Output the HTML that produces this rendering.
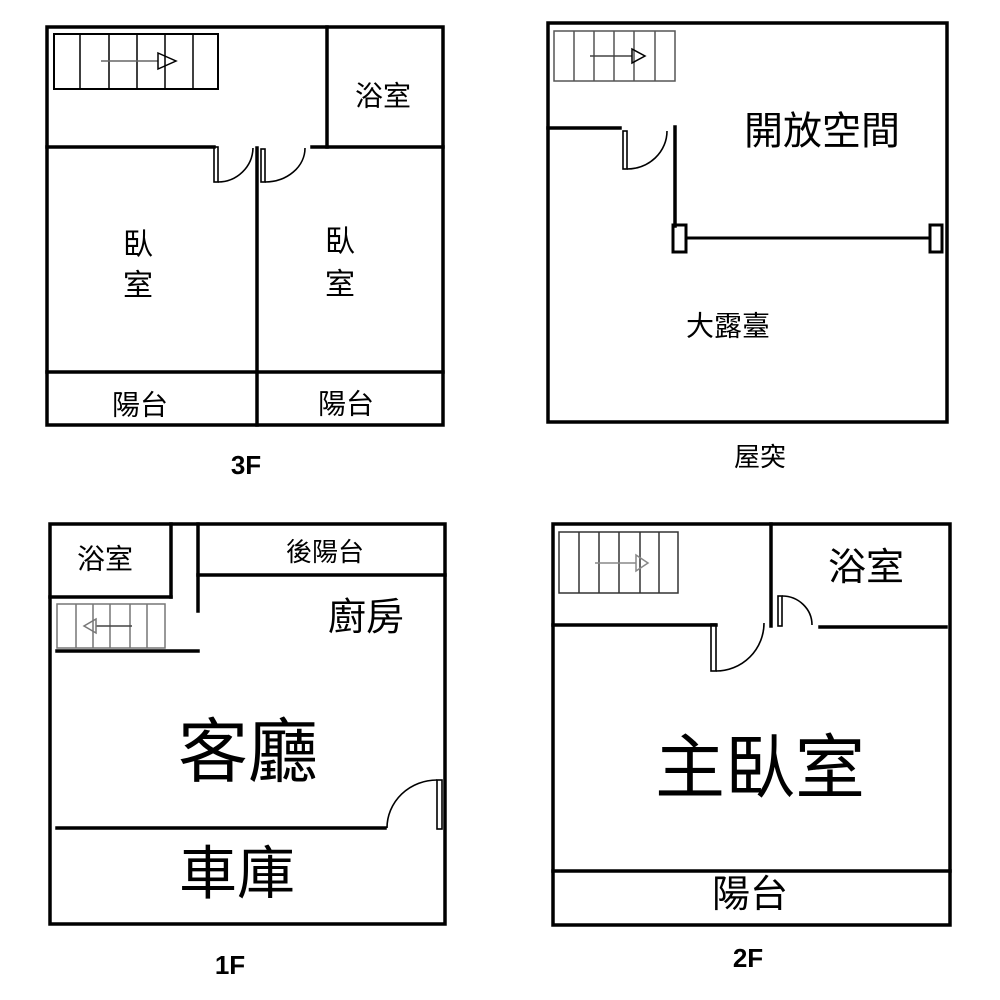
<!DOCTYPE html>
<html><head><meta charset="utf-8"><style>
html,body{margin:0;padding:0;background:#fff;}
svg{display:block}
text{font-family:"Liberation Sans","Noto Sans CJK TC",sans-serif;fill:#000;text-anchor:middle;dominant-baseline:central}
.b{font-weight:bold}
</style></head><body>
<svg width="1000" height="1000" viewBox="0 0 1000 1000" xmlns="http://www.w3.org/2000/svg">
<g fill="none" stroke="#000" stroke-width="3.5" stroke-linecap="square">
<rect x="47" y="27" width="396" height="398"/>
<line x1="327" y1="27" x2="327" y2="147"/>
<line x1="47" y1="147" x2="214" y2="147"/>
<line x1="312" y1="147" x2="443" y2="147"/>
<line x1="257" y1="148" x2="257" y2="425"/>
<line x1="47" y1="372" x2="443" y2="372"/>
<rect x="548" y="23" width="399" height="399"/>
<line x1="548" y1="128" x2="620" y2="128"/>
<line x1="675" y1="127" x2="675" y2="226"/>
<line x1="686" y1="238" x2="930" y2="238" stroke-width="3"/>
<rect x="50" y="524" width="395" height="400"/>
<line x1="171" y1="524" x2="171" y2="597"/>
<line x1="50" y1="597" x2="171" y2="597"/>
<line x1="198" y1="524" x2="198" y2="611"/>
<line x1="198" y1="575" x2="445" y2="575"/>
<line x1="57" y1="651" x2="198" y2="651"/>
<line x1="57" y1="828" x2="385" y2="828"/>
<rect x="553" y="524" width="397" height="401"/>
<line x1="771" y1="524" x2="771" y2="626"/>
<line x1="553" y1="625" x2="716" y2="625"/>
<line x1="820" y1="627" x2="946" y2="627"/>
<line x1="553" y1="871" x2="950" y2="871"/>
</g>
<g fill="none" stroke="#000" stroke-width="1.6">
<rect x="214" y="147" width="4" height="35"/>
<path d="M218 182 A35 35 0 0 0 253 148"/>
<rect x="261" y="149" width="4" height="33"/>
<path d="M265 182 A40 34 0 0 0 305 148"/>
<rect x="623" y="131" width="4" height="38"/>
<path d="M627 169 A40 38 0 0 0 667 131"/>
<rect x="437" y="780" width="5" height="49"/>
<path d="M387 828 A50 48 0 0 1 437 780"/>
<rect x="711" y="624" width="5" height="47"/>
<path d="M716 671 A48 48 0 0 0 764 623"/>
<rect x="778" y="596" width="4" height="30"/>
<path d="M782 596 A30 29 0 0 1 812 625"/>
<rect x="673" y="225" width="13" height="27" stroke-width="3"/>
<rect x="930" y="225" width="12" height="27" stroke-width="3"/>
</g>
<g fill="none" stroke="#000" stroke-width="1.5">
<rect x="54" y="34" width="164" height="55" stroke-width="2"/>
<path d="M80 34V89M109 34V89M137 34V89M165 34V89M193 34V89"/>
<path d="M101 61H158" stroke="#666"/><path d="M158 53L176 61L158 69Z"/>
<rect x="554" y="31" width="121" height="50" stroke="#555"/>
<path d="M574 31V81M594 31V81M614 31V81M634 31V81M655 31V81" stroke="#555"/>
<path d="M590 56H632" stroke="#444"/><path d="M632 49L645 56L632 63Z"/>
<rect x="57" y="604" width="108" height="44" stroke="#777"/>
<path d="M76 604V648M93 604V648M110 604V648M130 604V648M147 604V648" stroke="#777"/>
<path d="M96 626H132" stroke="#444"/><path d="M96 619L84 626L96 633Z" stroke="#777"/>
<rect x="559" y="532" width="119" height="61" stroke="#333"/>
<path d="M579 532V593M599 532V593M619 532V593M640 532V593M659 532V593" stroke="#333"/>
<path d="M595 563H636" stroke="#888"/><path d="M636 555L648 563L636 571Z" stroke="#888"/>
</g>
<text x="383" y="96" font-size="28">浴室</text>
<text x="138" y="245" font-size="30">臥</text><text x="138" y="286" font-size="30">室</text>
<text x="340" y="242" font-size="30">臥</text><text x="340" y="285" font-size="30">室</text>
<text x="140" y="405" font-size="28">陽台</text>
<text x="346" y="404" font-size="28">陽台</text>
<text x="246" y="465" font-size="26" class="b">3F</text>
<text x="822" y="132" font-size="39">開放空間</text>
<text x="728" y="326" font-size="28">大露臺</text>
<text x="760" y="457" font-size="26">屋突</text>
<text x="105" y="559" font-size="28">浴室</text>
<text x="325" y="552" font-size="26">後陽台</text>
<text x="366" y="618" font-size="38">廚房</text>
<text x="248" y="752" font-size="70">客廳</text>
<text x="237" y="874" font-size="58">車庫</text>
<text x="230" y="965" font-size="26" class="b">1F</text>
<text x="866" y="568" font-size="38">浴室</text>
<text x="760" y="768" font-size="70">主臥室</text>
<text x="750" y="895" font-size="38">陽台</text>
<text x="748" y="958" font-size="26" class="b">2F</text>
</svg>
</body></html>
